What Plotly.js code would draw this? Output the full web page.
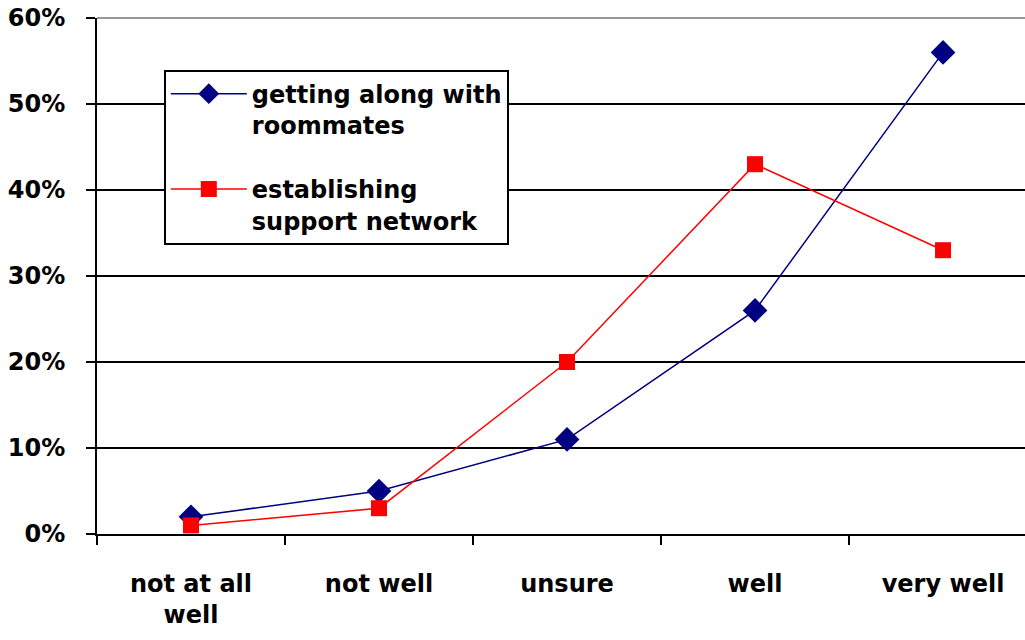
<!DOCTYPE html>
<html>
<head>
<meta charset="utf-8">
<script src="https://cdn.plot.ly/plotly-3.0.1.min.js"></script>
<style>html,body{margin:0;padding:0;background:#fff;}#chart{width:1025px;height:640px;}</style>
</head>
<body>
<div id="chart"></div>
<script>
const categories = ["not at all<br>well", "not well", "unsure", "well", "very well"];
const roommates = [0.02, 0.05, 0.11, 0.26, 0.56];
const support = [0.01, 0.03, 0.20, 0.43, 0.33];
const seriesNames = ["getting along with<br>roommates", "establishing<br>support network"];

const font = {family: "DejaVu Sans, Verdana, sans-serif", size: 24, color: "#000", weight: "bold"};

const traces = [
  {x: categories, y: roommates, name: seriesNames[0], legendgroup: "g1", type: "scatter", mode: "lines+markers",
   line: {color: "#000080", width: 1.5}, marker: {symbol: "diamond", size: 19, color: "#000080"}},
  {x: categories, y: support, name: seriesNames[1], legendgroup: "g2", type: "scatter", mode: "lines+markers",
   line: {color: "#ff0000", width: 1.5}, marker: {symbol: "square", size: 16, color: "#ff0000"}}
];

const layout = {
  width: 1025, height: 640,
  margin: {l: 97, r: 0, t: 18, b: 106},
  paper_bgcolor: "#fff", plot_bgcolor: "#fff",
  font: font,
  showlegend: true,
  legend: {x: 0.072, y: 0.9, xanchor: "left", yanchor: "top", bgcolor: "#fff",
           bordercolor: "#000", borderwidth: 2, font: font, itemwidth: 76,
           valign: "top", tracegroupgap: 30},
  xaxis: {type: "category", categoryarray: categories, range: [-0.5, 4.436],
          tickson: "boundaries", ticks: "outside", ticklen: 9, tickwidth: 2, tickcolor: "#000",
          showline: true, linewidth: 2, linecolor: "#000", showgrid: false, zeroline: false,
          ticklabelstandoff: 27, tickfont: font, fixedrange: true},
  yaxis: {range: [0, 0.6], dtick: 0.1, tickformat: ".0%", ticks: "outside", ticklen: 9, tickwidth: 2,
          tickcolor: "#000", showline: true, linewidth: 2, linecolor: "#000",
          showgrid: true, gridcolor: "#000", gridwidth: 2, zeroline: false,
          ticklabelstandoff: 16, tickfont: font, fixedrange: true},
  shapes: [{type: "line", xref: "paper", yref: "paper", x0: 0, x1: 1, y0: 1, y1: 1,
            line: {color: "#999", width: 2}}]
};

Plotly.newPlot("chart", traces, layout, {displayModeBar: false, staticPlot: true});
</script>
</body>
</html>
